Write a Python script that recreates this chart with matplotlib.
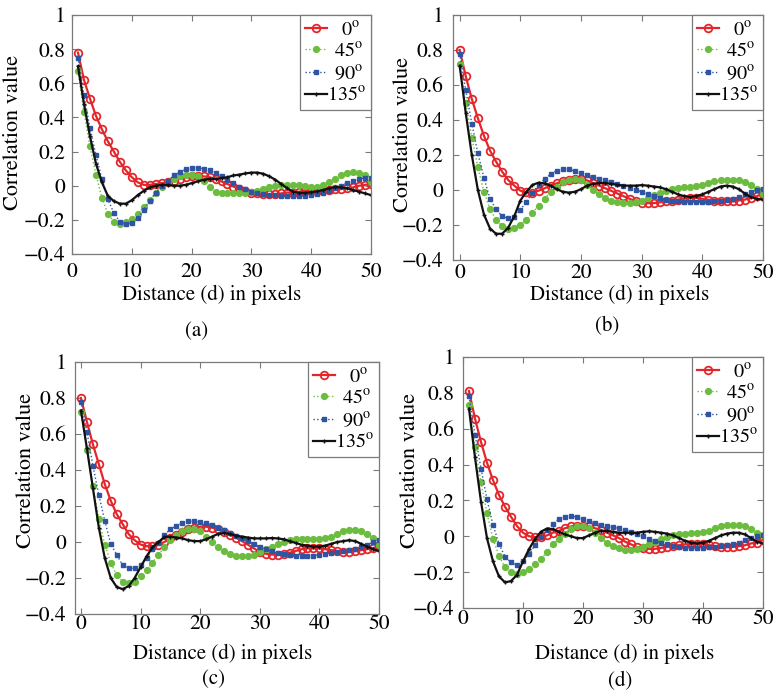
import numpy as np
import matplotlib
matplotlib.use("Agg")
import matplotlib.pyplot as plt

plt.rcParams['font.family'] = ['STIXGeneral']
plt.rcParams['mathtext.fontset'] = 'stix'

labels = ['0', '45', '90', '135']
panel_names = ['(a)', '(b)', '(c)', '(d)']

# ---- panel (a): d = 1..50
xa = list(range(1, 51))
a_0 = [0.78, 0.62, 0.51, 0.41, 0.33, 0.26, 0.20, 0.14, 0.09, 0.05,
       0.02, 0.005, 0.005, 0.01, 0.015, 0.02, 0.03, 0.04, 0.05, 0.055,
       0.055, 0.055, 0.05, 0.04, 0.025, 0.01, -0.005, -0.02, -0.03, -0.04,
       -0.045, -0.05, -0.05, -0.05, -0.045, -0.04, -0.04, -0.035, -0.03, -0.03,
       -0.03, -0.025, -0.025, -0.02, -0.02, -0.015, -0.01, 0.0, 0.005, 0.01]
a_45 = [0.67, 0.43, 0.23, 0.065, -0.07, -0.165, -0.21, -0.225, -0.215, -0.195,
        -0.165, -0.125, -0.085, -0.045, -0.01, 0.02, 0.04, 0.055, 0.06, 0.06,
        0.055, 0.03, -0.01, -0.035, -0.04, -0.04, -0.04, -0.04, -0.04, -0.035,
        -0.03, -0.02, -0.01, 0.0, 0.005, 0.005, 0.005, 0.005, 0.0, -0.005,
        -0.005, 0.005, 0.02, 0.04, 0.06, 0.075, 0.08, 0.075, 0.06, 0.02]
a_90 = [0.75, 0.53, 0.34, 0.18, 0.04, -0.08, -0.16, -0.21, -0.225, -0.22,
        -0.19, -0.14, -0.09, -0.04, 0.0, 0.03, 0.06, 0.08, 0.095, 0.105,
        0.105, 0.10, 0.09, 0.075, 0.055, 0.035, 0.015, -0.005, -0.02, -0.035,
        -0.045, -0.05, -0.055, -0.055, -0.06, -0.06, -0.06, -0.06, -0.06, -0.055,
        -0.05, -0.04, -0.03, -0.015, 0.0, 0.015, 0.025, 0.04, 0.045, 0.045]
a_135 = [0.70, 0.48, 0.29, 0.13, 0.02, -0.06, -0.09, -0.105, -0.105, -0.085,
         -0.055, -0.03, -0.01, 0.0, 0.005, 0.005, 0.0, 0.0, 0.005, 0.015,
         0.025, 0.035, 0.04, 0.04, 0.045, 0.05, 0.06, 0.065, 0.072, 0.077,
         0.077, 0.07, 0.055, 0.035, 0.01, -0.015, -0.035, -0.042, -0.042, -0.038,
         -0.033, -0.025, -0.015, -0.008, -0.01, -0.015, -0.025, -0.035, -0.045, -0.055]

# ---- panel (b): d = 0..50
xb = list(range(0, 51))
b_0 = [0.80, 0.65, 0.52, 0.41, 0.31, 0.225, 0.162, 0.105, 0.057, 0.025,
       -0.004, -0.013, -0.015, -0.004, 0.01, 0.025, 0.038, 0.05, 0.06, 0.065,
       0.065, 0.055, 0.04, 0.025, 0.01, -0.005, -0.02, -0.035, -0.05, -0.065,
       -0.075, -0.075, -0.075, -0.07, -0.065, -0.06, -0.055, -0.05, -0.045, -0.045,
       -0.05, -0.055, -0.06, -0.065, -0.065, -0.065, -0.06, -0.055, -0.045, -0.035,
       -0.02]
b_45 = [0.72, 0.50, 0.30, 0.13, -0.01, -0.11, -0.17, -0.205, -0.22, -0.215,
        -0.20, -0.17, -0.13, -0.09, -0.05, -0.01, 0.02, 0.045, 0.06, 0.065,
        0.055, 0.03, 0.0, -0.025, -0.045, -0.06, -0.07, -0.075, -0.075, -0.07,
        -0.06, -0.045, -0.03, -0.015, -0.005, 0.005, 0.01, 0.015, 0.02, 0.025,
        0.03, 0.04, 0.05, 0.055, 0.06, 0.06, 0.055, 0.045, 0.03, 0.005,
        -0.02]
b_90 = [0.78, 0.57, 0.38, 0.21, 0.07, -0.05, -0.11, -0.15, -0.162, -0.152,
        -0.114, -0.067, -0.015, 0.03, 0.063, 0.09, 0.11, 0.118, 0.118, 0.108,
        0.095, 0.085, 0.075, 0.065, 0.055, 0.045, 0.035, 0.025, 0.01, 0.0,
        -0.01, -0.025, -0.035, -0.045, -0.055, -0.06, -0.065, -0.07, -0.07, -0.07,
        -0.07, -0.07, -0.065, -0.06, -0.055, -0.05, -0.04, -0.025, -0.01, 0.0,
        0.005]
b_135 = [0.71, 0.44, 0.20, 0.0, -0.14, -0.22, -0.25, -0.25, -0.215, -0.15,
         -0.06, -0.01, 0.029, 0.042, 0.038, 0.025, 0.005, -0.01, -0.015, -0.01,
         0.005, 0.025, 0.035, 0.04, 0.04, 0.035, 0.03, 0.025, 0.025, 0.025,
         0.028, 0.025, 0.02, 0.015, 0.005, -0.01, -0.025, -0.035, -0.04, -0.035,
         -0.025, -0.01, 0.005, 0.02, 0.025, 0.02, 0.005, -0.02, -0.04, -0.05,
         -0.055]

# ---- panel (c): d = 0..50
xc = list(range(0, 51))
c_0 = [0.80, 0.667, 0.543, 0.432, 0.321, 0.229, 0.155, 0.10, 0.044, 0.01,
       -0.014, -0.023, -0.023, -0.015, 0.0, 0.02, 0.04, 0.055, 0.07, 0.08,
       0.085, 0.085, 0.08, 0.07, 0.055, 0.04, 0.025, 0.005, -0.015, -0.035,
       -0.055, -0.065, -0.07, -0.07, -0.065, -0.06, -0.05, -0.04, -0.035, -0.035,
       -0.035, -0.04, -0.045, -0.05, -0.055, -0.055, -0.05, -0.045, -0.04, -0.035,
       -0.02]
c_45 = [0.72, 0.51, 0.31, 0.13, -0.015, -0.115, -0.185, -0.22, -0.23, -0.22,
        -0.19, -0.155, -0.115, -0.07, -0.03, 0.01, 0.04, 0.06, 0.07, 0.075,
        0.06, 0.03, 0.0, -0.03, -0.05, -0.065, -0.075, -0.08, -0.075, -0.07,
        -0.055, -0.04, -0.025, -0.01, 0.0, 0.01, 0.015, 0.015, 0.015, 0.015,
        0.015, 0.02, 0.03, 0.045, 0.06, 0.065, 0.065, 0.06, 0.045, 0.025,
        -0.015]
c_90 = [0.78, 0.61, 0.425, 0.26, 0.118, -0.012, -0.07, -0.13, -0.146, -0.146,
        -0.13, -0.088, -0.04, -0.005, 0.04, 0.07, 0.09, 0.105, 0.115, 0.115,
        0.11, 0.105, 0.095, 0.08, 0.065, 0.05, 0.035, 0.02, 0.005, -0.01,
        -0.025, -0.04, -0.05, -0.06, -0.065, -0.07, -0.075, -0.075, -0.075, -0.075,
        -0.07, -0.065, -0.06, -0.055, -0.05, -0.045, -0.04, -0.03, -0.015, 0.0,
        0.01]
c_135 = [0.73, 0.52, 0.30, 0.08, -0.09, -0.20, -0.25, -0.262, -0.245, -0.20,
         -0.14, -0.08, -0.03, 0.0, 0.028, 0.03, 0.025, 0.02, 0.01, 0.005,
         0.005, 0.015, 0.03, 0.045, 0.05, 0.045, 0.035, 0.03, 0.025, 0.02,
         0.02, 0.02, 0.022, 0.02, 0.015, 0.005, -0.005, -0.015, -0.02, -0.025,
         -0.025, -0.02, -0.01, 0.0, 0.005, 0.01, 0.005, -0.01, -0.025, -0.04,
         -0.05]

# ---- panel (d): d = 1..50
xd = list(range(1, 51))
d_0 = [0.81, 0.656, 0.526, 0.41, 0.313, 0.23, 0.165, 0.109, 0.057, 0.02,
       0.0, -0.005, -0.005, 0.005, 0.02, 0.03, 0.045, 0.055, 0.06, 0.06,
       0.055, 0.045, 0.035, 0.02, 0.005, -0.01, -0.03, -0.045, -0.06, -0.065,
       -0.07, -0.07, -0.065, -0.06, -0.055, -0.05, -0.045, -0.045, -0.045, -0.045,
       -0.05, -0.055, -0.06, -0.06, -0.06, -0.055, -0.05, -0.04, -0.035, -0.02]
d_45 = [0.73, 0.50, 0.30, 0.128, -0.015, -0.109, -0.174, -0.20, -0.21, -0.20,
        -0.18, -0.155, -0.128, -0.085, -0.043, -0.015, 0.01, 0.04, 0.055, 0.06,
        0.045, 0.02, -0.01, -0.035, -0.055, -0.065, -0.075, -0.075, -0.07, -0.06,
        -0.045, -0.03, -0.015, -0.005, 0.005, 0.01, 0.015, 0.02, 0.02, 0.025,
        0.03, 0.045, 0.055, 0.065, 0.065, 0.065, 0.055, 0.04, 0.02, 0.005]
d_90 = [0.78, 0.567, 0.378, 0.206, 0.063, -0.043, -0.113, -0.146, -0.16, -0.137,
        -0.10, -0.05, -0.005, 0.035, 0.07, 0.095, 0.11, 0.115, 0.105, 0.095,
        0.085, 0.075, 0.065, 0.055, 0.05, 0.045, 0.035, 0.025, 0.01, 0.0,
        -0.015, -0.025, -0.035, -0.045, -0.055, -0.06, -0.065, -0.065, -0.065, -0.065,
        -0.06, -0.06, -0.055, -0.05, -0.045, -0.035, -0.02, -0.01, 0.0, 0.005]
d_135 = [0.712, 0.44, 0.193, -0.011, -0.14, -0.224, -0.257, -0.25, -0.215, -0.14,
         -0.072, -0.015, 0.026, 0.043, 0.04, 0.025, 0.01, 0.0, -0.01, -0.01,
         0.005, 0.02, 0.03, 0.03, 0.025, 0.02, 0.02, 0.02, 0.02, 0.025,
         0.028, 0.025, 0.02, 0.015, 0.005, -0.01, -0.025, -0.035, -0.04, -0.035,
         -0.025, -0.01, 0.005, 0.015, 0.02, 0.02, 0.01, -0.01, -0.03, -0.04]

xticks = [0, 10, 20, 30, 40, 50]
yticks = [-0.4, -0.2, 0, 0.2, 0.4, 0.6, 0.8, 1]
ytick_labels = ['\u22120.4', '\u22120.2', '0', '0.2', '0.4', '0.6', '0.8', '1']

panels = [
    (xa, [a_0, a_45, a_90, a_135]),
    (xb, [b_0, b_45, b_90, b_135]),
    (xc, [c_0, c_45, c_90, c_135]),
    (xd, [d_0, d_45, d_90, d_135]),
]

W, H = 776, 694
fig = plt.figure(figsize=(W / 100, H / 100), dpi=100)

# axes boxes in pixels: left, top, right, bottom
boxes = [(72, 15, 371, 254), (453, 15, 763, 260), (75, 362, 379, 614), (463, 357, 763, 608)]
xlims = [(0, 50), (-1.1, 50), (-1.0, 50), (0, 50)]
xpads = [6, 2, 0.5, 1]
ypads = [5, 7, 6, 6]
ylab_pos = [(13, 133), (403, 135), (26, 470), (410, 470)]
xlab_pos = [(212, 295), (620, 295), (223, 654), (625, 654)]
cap_pos = [(197, 331), (607, 326), (213, 679), (620, 681)]

red = '#e3262b'
green = '#6cbd3f'
blue = '#2f54a3'
black = '#111111'
spine = '#7a7a7a'

width = max(len(s) for s in labels)
pad_space = {0: '', 1: r'\enspace', 2: r'\quad'}

for i, (x, series) in enumerate(panels):
    l, t, r, b = boxes[i]
    ax = fig.add_axes([l / W, 1 - b / H, (r - l) / W, (b - t) / H])
    s0, s45, s90, s135 = series
    # right-aligned legend labels: pad with digit-wide spaces
    lab = ['$' + pad_space[width - len(s)] + '\\mathrm{' + s + '}^{\\mathrm{o}}$'
           for s in labels]
    ax.plot(x, s0, '-', color=red, lw=1.6, marker='o', ms=5.5, mfc='none', mec=red, mew=1.3,
            label=lab[0])
    ax.plot(x, s45, ':', color=green, lw=1.0, marker='o', ms=4.2, mfc=green, mec=green,
            label=lab[1])
    ax.plot(x, s90, ':', color=blue, lw=1.0, marker='s', ms=3.2, mfc=blue, mec=blue,
            label=lab[2])
    ax.plot(x, s135, '-', color=black, lw=1.6, marker='+', ms=3.5, mew=1.0,
            label=lab[3])
    ax.set_xlim(*xlims[i])
    ax.set_ylim(-0.4, 1.0)
    ax.set_xticks(xticks)
    ax.set_yticks(yticks)
    ax.set_yticklabels(ytick_labels)
    ax.tick_params(direction='in', top=True, right=True, labelsize=15.5,
                   length=4, width=0.8, color=spine)
    ax.tick_params(axis='x', pad=xpads[i])
    ax.tick_params(axis='y', pad=ypads[i])
    for sp in ax.spines.values():
        sp.set_color(spine)
        sp.set_linewidth(0.9)
    leg = ax.legend(loc='upper right', fontsize=14.5, handlelength=1.1, handletextpad=0.0,
                    labelspacing=0.15, borderpad=0.25, borderaxespad=0.0,
                    fancybox=False, framealpha=1, edgecolor=spine)
    leg.get_frame().set_linewidth(0.9)
    fig.text(ylab_pos[i][0] / W, 1 - ylab_pos[i][1] / H, 'Correlation value',
             rotation=90, ha='center', va='center', fontsize=16)
    fig.text(xlab_pos[i][0] / W, 1 - xlab_pos[i][1] / H, 'Distance (d) in pixels',
             ha='center', va='center', fontsize=15)
    fig.text(cap_pos[i][0] / W, 1 - cap_pos[i][1] / H, panel_names[i],
             ha='center', va='center', fontsize=15)

fig.savefig('out.png', dpi=100)
